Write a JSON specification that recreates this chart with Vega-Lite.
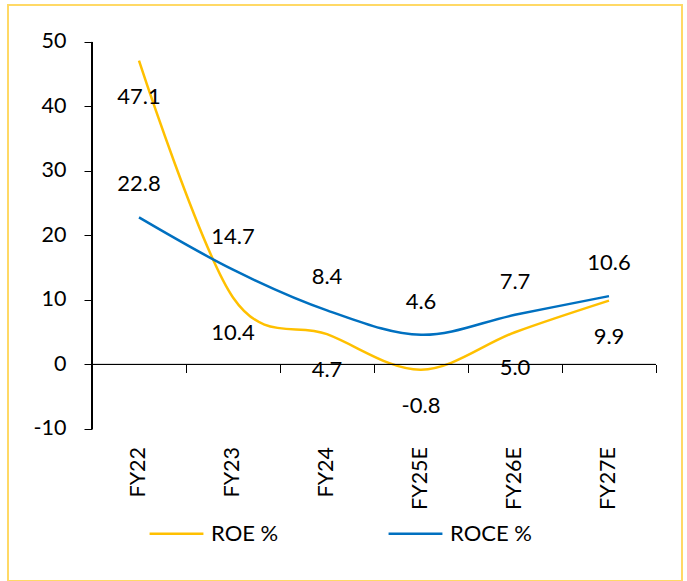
{
  "$schema": "https://vega.github.io/schema/vega-lite/v6.json",
  "width": 674,
  "height": 576,
  "autosize": {"type": "none"},
  "padding": {"left": 8, "top": 5, "right": 5, "bottom": 0},
  "background": "white",
  "config": {
    "view": {"stroke": "#FFD966", "strokeWidth": 2},
    "font": "Lato",
    "locale": {"number": {"decimal": ".", "thousands": ",", "grouping": [3], "currency": ["$", ""], "minus": "-"}},
    "legend": {
      "orient": "none",
      "legendX": 140,
      "legendY": 500,
      "direction": "horizontal",
      "symbolType": "stroke",
      "symbolSize": 2900,
      "symbolStrokeWidth": 2.5,
      "labelFontSize": 22,
      "labelFont": "Lato",
      "labelColor": "black",
      "labelOffset": 6,
      "columnPadding": 104,
      "padding": 0
    }
  },
  "data": {
    "values": [
      {"year": "FY22", "metric": "ROE %", "value": 47.1},
      {"year": "FY23", "metric": "ROE %", "value": 10.4},
      {"year": "FY24", "metric": "ROE %", "value": 4.7},
      {"year": "FY25E", "metric": "ROE %", "value": -0.8},
      {"year": "FY26E", "metric": "ROE %", "value": 5.0},
      {"year": "FY27E", "metric": "ROE %", "value": 9.9},
      {"year": "FY22", "metric": "ROCE %", "value": 22.8},
      {"year": "FY23", "metric": "ROCE %", "value": 14.7},
      {"year": "FY24", "metric": "ROCE %", "value": 8.4},
      {"year": "FY25E", "metric": "ROCE %", "value": 4.6},
      {"year": "FY26E", "metric": "ROCE %", "value": 7.7},
      {"year": "FY27E", "metric": "ROCE %", "value": 10.6}
    ]
  },
  "layer": [
    {
      "mark": {"type": "line", "interpolate": "cardinal", "strokeWidth": 2.5},
      "encoding": {
        "x": {
          "field": "year", "type": "nominal", "bandPosition": 0.5, "title": null,
          "scale": {"type": "band", "domain": ["FY22", "FY23", "FY24", "FY25E", "FY26E", "FY27E"], "paddingInner": 0, "paddingOuter": 0.5851, "align": 0.7636},
          "axis": {"offset": -216.5, "domain": false, "tickBand": "extent", "tickSize": 8, "tickColor": "black", "tickWidth": 1, "labelAngle": -90, "labelPadding": 74, "labelFontSize": 21.5, "labelColor": "black", "labelFont": "Lato", "grid": false}
        },
        "y": {
          "field": "value", "type": "quantitative", "title": null,
          "scale": {"domain": [-33.566, 55.736], "nice": false, "zero": false},
          "axis": {"offset": -84, "domain": false, "values": [-10, 0, 10, 20, 30, 40, 50], "tickSize": 8, "tickColor": "black", "tickWidth": 1, "labelPadding": 18, "labelFontSize": 21.5, "labelColor": "black", "labelFont": "Lato", "grid": false}
        },
        "color": {
          "field": "metric", "type": "nominal", "title": null,
          "scale": {"domain": ["ROE %", "ROCE %"], "range": ["#FFC000", "#0070C0"]}
        }
      }
    },
    {
      "mark": {"type": "rule", "color": "black", "strokeWidth": 1},
      "encoding": {
        "x": {"datum": "FY22", "type": "nominal", "bandPosition": 0},
        "y": {"datum": -10, "type": "quantitative"},
        "y2": {"datum": 50}
      }
    },
    {
      "mark": {"type": "rule", "color": "black", "strokeWidth": 1},
      "encoding": {
        "x": {"datum": "FY22", "type": "nominal", "bandPosition": 0},
        "x2": {"datum": "FY27E", "bandPosition": 1},
        "y": {"datum": 0, "type": "quantitative"}
      }
    },
    {
      "transform": [{"filter": "datum.metric === 'ROE %'"}],
      "mark": {"type": "text", "fontSize": 22, "font": "Lato", "color": "black", "dy": 36},
      "encoding": {
        "x": {"field": "year", "type": "nominal", "bandPosition": 0.5},
        "y": {"field": "value", "type": "quantitative"},
        "text": {"field": "value", "type": "quantitative", "format": ".1f"}
      }
    },
    {
      "transform": [{"filter": "datum.metric === 'ROCE %'"}],
      "mark": {"type": "text", "fontSize": 22, "font": "Lato", "color": "black", "dy": -33},
      "encoding": {
        "x": {"field": "year", "type": "nominal", "bandPosition": 0.5},
        "y": {"field": "value", "type": "quantitative"},
        "text": {"field": "value", "type": "quantitative", "format": ".1f"}
      }
    }
  ]
}
